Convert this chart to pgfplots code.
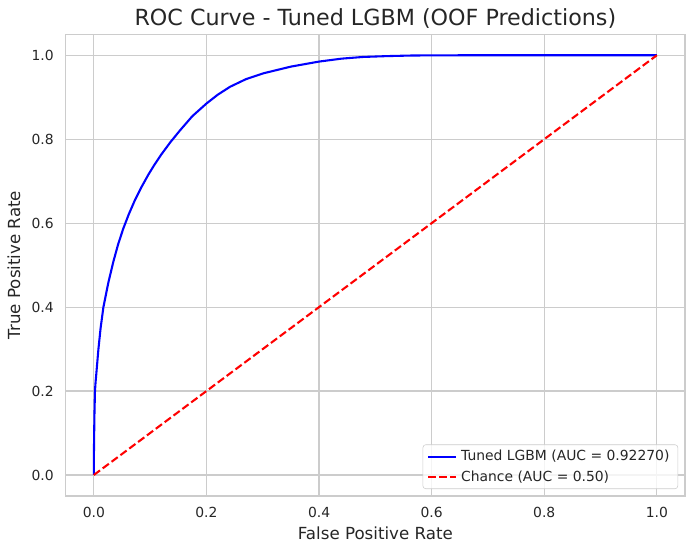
\documentclass[border=0pt]{standalone}
\usepackage{fontspec}
\setmainfont{DejaVu Sans}
\usepackage{pgfplots}
\pgfplotsset{compat=1.18}
\definecolor{txt}{HTML}{262626}
\definecolor{gridc}{HTML}{CCCCCC}
\begin{document}
\begin{tikzpicture}
\begin{axis}[
  scale only axis,
  width=445.9pt, height=332.4pt,
  xmin=-0.05, xmax=1.05, ymin=-0.05, ymax=1.05,
  xtick={0,0.2,0.4,0.6,0.8,1.0},
  ytick={0,0.2,0.4,0.6,0.8,1.0},
  /pgf/number format/assume math mode=true,
  /pgf/number format/.cd, fixed, fixed zerofill, precision=1, /pgfplots/.cd,
  major tick length=0pt,
  tick style={draw=none},
  tick label style={inner sep=0pt, font=\fontsize{10}{12}\selectfont, text=txt},
  xticklabel shift=7.7pt,
  yticklabel shift=8.4pt,
  grid=major,
  major grid style={draw=gridc, line width=0.8pt},
  axis line style={draw=gridc, line width=1pt},
  every axis title shift=0pt,
  title={ROC Curve - Tuned LGBM (OOF Predictions)},
  title style={at={(0.5,1)}, anchor=base, yshift=6pt, inner sep=0pt,
    font=\fontsize{16}{19}\selectfont, text=txt},
  xlabel={False Positive Rate},
  ylabel={True Positive Rate},
  xlabel style={at={(ticklabel cs:0.5,6.5pt)}, anchor=north, inner sep=0pt,
    font=\fontsize{12}{14}\selectfont, text=txt},
  ylabel style={at={(ticklabel cs:0.5,8pt)}, anchor=south, inner sep=0pt,
    font=\fontsize{12}{14}\selectfont, text=txt},
  legend cell align=left,
  legend image code/.code={\draw[#1] (0pt,0pt) -- (20pt,0pt);},
  legend style={at={(1,0)}, anchor=south east, xshift=-5pt, yshift=5pt,
    draw=gridc, rounded corners=2pt, fill=white, fill opacity=0.8, text opacity=1,
    font=\fontsize{10}{12}\selectfont, text=txt,
    inner xsep=3pt, inner ysep=2pt, row sep=1.5pt,
    nodes={inner xsep=3pt, inner ysep=2pt}},
]
\coordinate (bl) at (rel axis cs:0,0);
\coordinate (tr) at (rel axis cs:1,1);
\addplot[blue, line width=1.5pt, line join=round] coordinates {
  (0,0) (0,0.03) (0.0003,0.07) (0.001,0.14) (0.002,0.2) (0.003,0.22)
  (0.004,0.235) (0.008,0.298) (0.012,0.35) (0.017,0.40) (0.0257,0.458)
  (0.0346,0.508) (0.043,0.549) (0.052,0.586) (0.062,0.621) (0.073,0.655)
  (0.085,0.687) (0.097,0.716) (0.108,0.740) (0.12,0.764) (0.136,0.793)
  (0.153,0.821) (0.175,0.855) (0.2,0.885) (0.22,0.906) (0.242,0.925)
  (0.27,0.943) (0.301,0.957) (0.35,0.973) (0.4,0.985) (0.44,0.992)
  (0.478,0.996) (0.52,0.998) (0.566,0.9995) (0.65,1) (1,1)
};
\addlegendentry{Tuned LGBM (AUC = 0.92270)}
\addplot[red, line width=1.5pt, dash pattern=on 5.55pt off 2.4pt] coordinates {
  (0,0) (1,1)
};
\addlegendentry{Chance (AUC = 0.50)}
\end{axis}
\pgfresetboundingbox
\path ([xshift=-47.3pt,yshift=-41pt]bl) rectangle ([xshift=7.2pt,yshift=24.7pt]tr);
\end{tikzpicture}
\end{document}
